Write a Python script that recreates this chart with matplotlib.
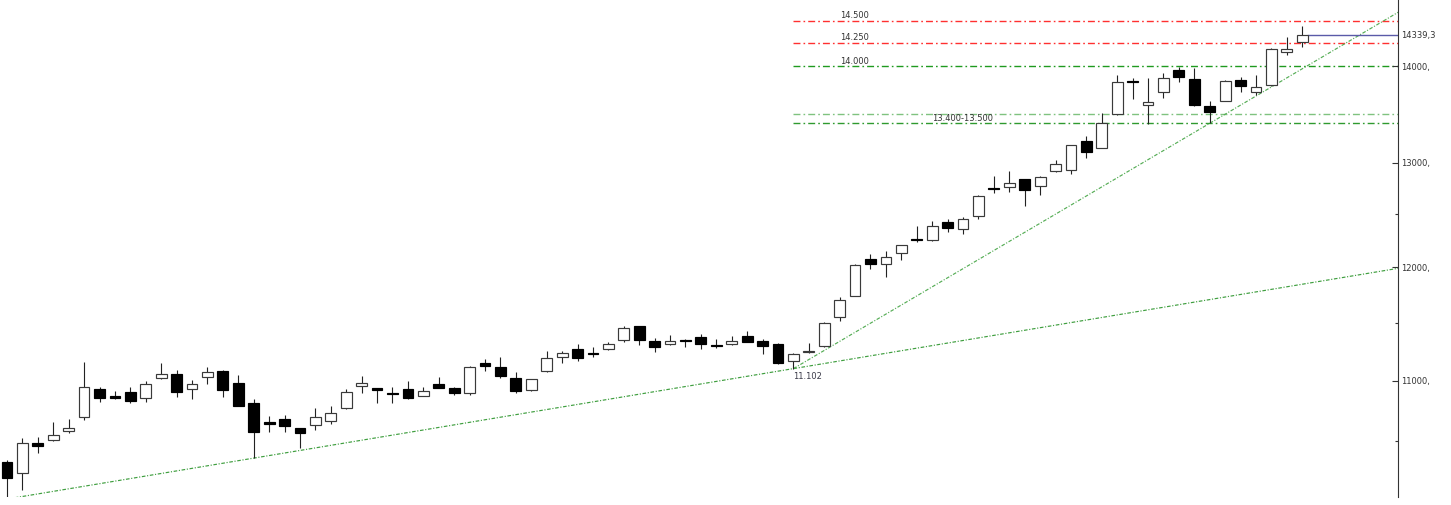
import matplotlib
matplotlib.use('Agg')
import matplotlib.pyplot as plt
from matplotlib.patches import Rectangle
from matplotlib.ticker import FixedLocator, FixedFormatter, NullFormatter
import numpy as np

plt.rcParams['lines.scale_dashes'] = False
plt.rcParams['font.family'] = ['DejaVu Sans']

# ---------------- data ----------------
opens = [10337, 10246, 10484, 10511, 10584, 10700, 10930, 10872, 10905, 10853,
         11020, 11054, 10928, 11029, 11085, 10978, 10811, 10655, 10679, 10606,
         10632, 10668, 10770, 10955, 10936, 10894, 10930, 10872, 10975, 10936,
         10899, 11148, 11119, 11025, 10922, 11082, 11204, 11273, 11234, 11268,
         11349, 11471, 11343, 11311, 11346, 11378, 11308, 11311, 11381, 11343,
         11311, 11167, 11242, 11297, 11552, 11742, 12078, 12034, 12133, 12267,
         12258, 12428, 12358, 12485, 12756, 12763, 12841, 12776, 12923, 12933,
         13221, 13150, 13500, 13843, 13594, 13723, 13960, 13861, 13580, 13636,
         13854, 13723, 13797, 14151, 14267]
highs = [10351, 10524, 10533, 10659, 10679, 11156, 10949, 10916, 10944, 10995,
         11150, 11088, 11003, 11114, 11091, 11051, 10844, 10709, 10714, 10610,
         10770, 10791, 10930, 11040, 10940, 10944, 11000, 10949, 11034, 10949,
         11125, 11185, 11204, 11076, 11014, 11253, 11256, 11317, 11285, 11329,
         11471, 11475, 11364, 11390, 11355, 11401, 11358, 11386, 11425, 11355,
         11325, 11239, 11320, 11505, 11731, 12034, 12127, 12155, 12208, 12390,
         12431, 12453, 12472, 12681, 12874, 12916, 12845, 12867, 13033, 13184,
         13268, 13510, 13904, 13878, 13872, 13925, 13996, 13979, 13632, 13854,
         13889, 13907, 14195, 14315, 14440]
lows = [10045, 10115, 10404, 10505, 10570, 10673, 10819, 10849, 10816, 10819,
        11015, 10866, 10847, 10972, 10861, 10789, 10369, 10578, 10578, 10444,
        10592, 10638, 10761, 10894, 10816, 10811, 10844, 10868, 10936, 10880,
        10880, 11085, 11020, 10894, 10916, 11074, 11153, 11170, 11199, 11262,
        11332, 11303, 11242, 11306, 11285, 11268, 11277, 11306, 11328, 11228,
        11145, 11102, 11238, 11292, 11513, 11742, 11988, 11912, 12071, 12232,
        12242, 12326, 12311, 12453, 12704, 12710, 12574, 12688, 12913, 12894,
        13050, 13145, 13487, 13650, 13394, 13667, 13836, 13583, 13401, 13632,
        13723, 13695, 13790, 14122, 14212]
closes = [10206, 10484, 10462, 10551, 10610, 10944, 10853, 10857, 10833, 10970,
          11059, 10908, 10970, 11071, 10919, 10789, 10575, 10641, 10624, 10565,
          10695, 10728, 10903, 10981, 10922, 10888, 10853, 10916, 10941, 10897,
          11119, 11125, 11040, 10916, 11010, 11191, 11234, 11196, 11228, 11311,
          11451, 11349, 11285, 11340, 11340, 11311, 11294, 11340, 11332, 11297,
          11148, 11228, 11256, 11501, 11700, 12025, 12034, 12092, 12204, 12251,
          12383, 12368, 12456, 12671, 12743, 12802, 12730, 12857, 12993, 13177,
          13106, 13407, 13829, 13829, 13619, 13872, 13882, 13587, 13515, 13840,
          13793, 13783, 14184, 14184, 14339.3]

level_prices = [14500, 14250, 14000, 13500, 13400]
level_colors = ['#ff3030', '#ff3030', '#1f9a1f', '#7fc27f', '#2f9a2f']
level_texts = ['14.500', '14.250', '14.000']
range_text = '13.400-13.500'
low_text = '11.102'
last_price = 14339.3
last_text = '14339,3'

ytick_values = [11000, 12000, 13000, 14000]
ytick_labels = ['11000,', '12000,', '13000,', '14000,']
yminor_values = [10500, 11500, 12500]

# trend line anchors (candle indices)
lower_trend_idx = [0, 51]
upper_trend_idx = [51, 78]

# ---------------- figure ----------------
W, H = 1451, 505
fig = plt.figure(figsize=(W / 100, H / 100), dpi=100)
ax = fig.add_axes([0, 8 / H, 1398 / W, 497 / H])
ax.set_yscale('log')
XMIN, XMAX = -0.454, 90.21
YMIN, YMAX = 10060.7, 14730.5
ax.set_xlim(XMIN, XMAX)
ax.set_ylim(YMIN, YMAX)

n = len(opens)
body_w = 0.70
for i in range(n):
    o, h, l, c = opens[i], highs[i], lows[i], closes[i]
    ax.plot([i, i], [l, h], color='#222222', lw=0.8, zorder=2,
            solid_capstyle='butt')
    bull = c >= o
    lo, hi = min(o, c), max(o, c)
    rect = Rectangle((i - body_w / 2, lo), body_w, hi - lo,
                     facecolor='white' if bull else 'black',
                     edgecolor='#3a3a3a' if bull else 'black',
                     lw=0.85, zorder=3)
    ax.add_patch(rect)

# horizontal level lines
lvl_dash = (5.0, 2.2, 1.2, 2.2)
for p, col in zip(level_prices, level_colors):
    ax.plot([51, XMAX + 1], [p, p], color=col, lw=1.0, dashes=lvl_dash,
            zorder=1)

for p, t in zip(level_prices[:3], level_texts):
    ax.annotate(t, (54, p), xytext=(0, 3.8), textcoords='offset points',
                ha='left', va='center', fontsize=6, color='#333333')
mid = np.sqrt(level_prices[3] * level_prices[4])
ax.annotate(range_text, (60, mid), xytext=(0, 0), textcoords='offset points',
            ha='left', va='center', fontsize=6, color='#333333')

# trend lines (straight in log space)
def trend(idx, start):
    i0, i1 = idx
    y0, y1 = np.log(lows[i0]), np.log(lows[i1])
    s = (y1 - y0) / (i1 - i0)
    xs = np.array([start, XMAX + 1])
    return xs, np.exp(y0 + s * (xs - i0))

tr_dash = (2.6, 1.2, 0.8, 1.2)
xs, ys = trend(lower_trend_idx, 0.5)
ax.plot(xs, ys, color='#3e9e3e', lw=0.85, dashes=tr_dash, zorder=1)
xs, ys = trend(upper_trend_idx, 51)
ax.plot(xs, ys, color='#55ad55', lw=0.85, dashes=tr_dash, zorder=1)

ax.annotate(low_text, (51, lows[51]), xytext=(0, -6.0), textcoords='offset points',
            ha='left', va='center', fontsize=6, color='#3a3a48')

# last price line
ax.plot([n - 1 + 0.36, XMAX + 1], [last_price, last_price], color='#5a5aa8',
        lw=1.0, zorder=1)
ax.text(1.0 + 3 / 1398, last_price, last_text, transform=ax.get_yaxis_transform(),
        ha='left', va='center', fontsize=6, color='#333333')

# axes styling
for s in ['top', 'left', 'bottom']:
    ax.spines[s].set_visible(False)
ax.spines['right'].set_color('#333333')
ax.spines['right'].set_linewidth(0.8)
ax.set_xticks([])
ax.yaxis.tick_right()
ax.yaxis.set_major_locator(FixedLocator(ytick_values))
ax.yaxis.set_major_formatter(FixedFormatter(ytick_labels))
ax.yaxis.set_minor_locator(FixedLocator(yminor_values))
ax.yaxis.set_minor_formatter(NullFormatter())
ax.tick_params(axis='y', which='major', direction='in', length=4.3, width=0.8,
               color='#333333', pad=2.2, labelsize=6, labelcolor='#333333')
ax.tick_params(axis='y', which='minor', direction='in', length=2.0, width=0.8,
               color='#333333')

fig.savefig('out.png', dpi=100, facecolor='white')
